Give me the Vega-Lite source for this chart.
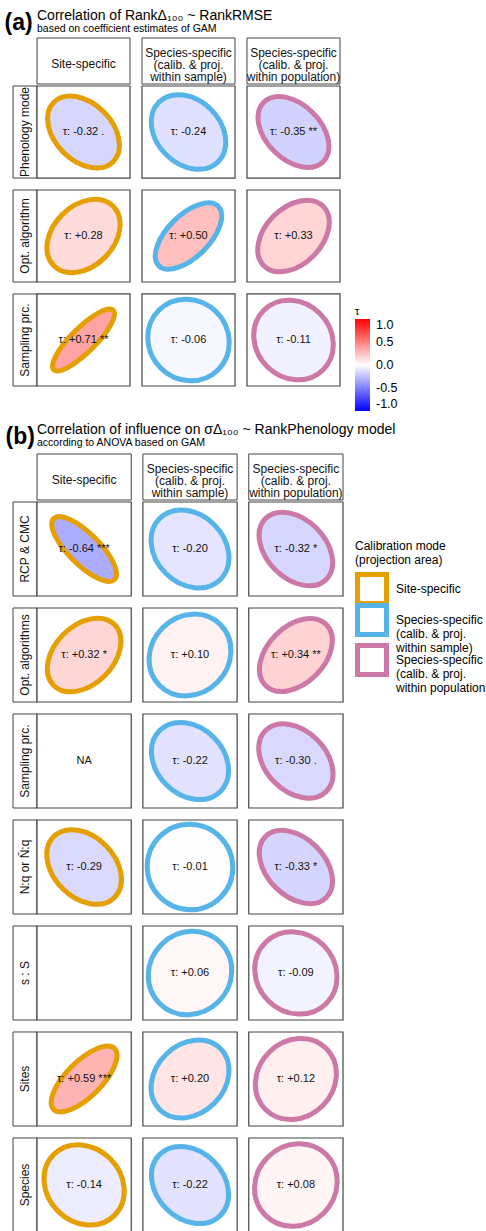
{
  "$schema": "https://vega.github.io/schema/vega-lite/v6.json",
  "padding": {"left": 4, "top": 9, "right": 0, "bottom": 0},
  "background": "white",
  "config": {
    "view": {"stroke": null},
    "font": "Liberation Sans",
    "title": {"fontWeight": "normal", "color": "#000000", "subtitleColor": "#000000"},
    "legend": {"titleColor": "#000000", "labelColor": "#000000"}
  },
  "datasets": {
    "modes": [
      {"mode": "Site-specific", "lines": ["Site-specific"]},
      {"mode": "Species-specific|(calib. & proj.|within sample)", "lines": ["Species-specific", "(calib. & proj.", "within sample)"]},
      {"mode": "Species-specific|(calib. & proj.|within population)", "lines": ["Species-specific", "(calib. & proj.", "within population)"]}
    ],
    "rowsA": [{"row": "Phenology mode"}, {"row": "Opt. algorithm"}, {"row": "Sampling prc."}],
    "rowsB": [{"row": "RCP & CMC"}, {"row": "Opt. algorithms"}, {"row": "Sampling prc."}, {"row": "N:q or N̄:q"}, {"row": "s : S"}, {"row": "Sites"}, {"row": "Species"}],
    "cellsA": [
      {"row": "Phenology mode", "mode": "Site-specific", "tau": -0.32, "label": "τ: -0.32 ."},
      {"row": "Phenology mode", "mode": "Species-specific|(calib. & proj.|within sample)", "tau": -0.24, "label": "τ: -0.24"},
      {"row": "Phenology mode", "mode": "Species-specific|(calib. & proj.|within population)", "tau": -0.35, "label": "τ: -0.35 **"},
      {"row": "Opt. algorithm", "mode": "Site-specific", "tau": 0.28, "label": "τ: +0.28"},
      {"row": "Opt. algorithm", "mode": "Species-specific|(calib. & proj.|within sample)", "tau": 0.5, "label": "τ: +0.50"},
      {"row": "Opt. algorithm", "mode": "Species-specific|(calib. & proj.|within population)", "tau": 0.33, "label": "τ: +0.33"},
      {"row": "Sampling prc.", "mode": "Site-specific", "tau": 0.71, "label": "τ: +0.71 **"},
      {"row": "Sampling prc.", "mode": "Species-specific|(calib. & proj.|within sample)", "tau": -0.06, "label": "τ: -0.06"},
      {"row": "Sampling prc.", "mode": "Species-specific|(calib. & proj.|within population)", "tau": -0.11, "label": "τ: -0.11"}
    ],
    "cellsB": [
      {"row": "RCP & CMC", "mode": "Site-specific", "tau": -0.64, "label": "τ: -0.64 ***"},
      {"row": "RCP & CMC", "mode": "Species-specific|(calib. & proj.|within sample)", "tau": -0.2, "label": "τ: -0.20"},
      {"row": "RCP & CMC", "mode": "Species-specific|(calib. & proj.|within population)", "tau": -0.32, "label": "τ: -0.32 *"},
      {"row": "Opt. algorithms", "mode": "Site-specific", "tau": 0.32, "label": "τ: +0.32 *"},
      {"row": "Opt. algorithms", "mode": "Species-specific|(calib. & proj.|within sample)", "tau": 0.1, "label": "τ: +0.10"},
      {"row": "Opt. algorithms", "mode": "Species-specific|(calib. & proj.|within population)", "tau": 0.34, "label": "τ: +0.34 **"},
      {"row": "Sampling prc.", "mode": "Site-specific", "tau": null, "label": "NA"},
      {"row": "Sampling prc.", "mode": "Species-specific|(calib. & proj.|within sample)", "tau": -0.22, "label": "τ: -0.22"},
      {"row": "Sampling prc.", "mode": "Species-specific|(calib. & proj.|within population)", "tau": -0.3, "label": "τ: -0.30 ."},
      {"row": "N:q or N̄:q", "mode": "Site-specific", "tau": -0.29, "label": "τ: -0.29"},
      {"row": "N:q or N̄:q", "mode": "Species-specific|(calib. & proj.|within sample)", "tau": -0.01, "label": "τ: -0.01"},
      {"row": "N:q or N̄:q", "mode": "Species-specific|(calib. & proj.|within population)", "tau": -0.33, "label": "τ: -0.33 *"},
      {"row": "s : S", "mode": "Site-specific", "tau": null, "label": ""},
      {"row": "s : S", "mode": "Species-specific|(calib. & proj.|within sample)", "tau": 0.06, "label": "τ: +0.06"},
      {"row": "s : S", "mode": "Species-specific|(calib. & proj.|within population)", "tau": -0.09, "label": "τ: -0.09"},
      {"row": "Sites", "mode": "Site-specific", "tau": 0.59, "label": "τ: +0.59 ***"},
      {"row": "Sites", "mode": "Species-specific|(calib. & proj.|within sample)", "tau": 0.2, "label": "τ: +0.20"},
      {"row": "Sites", "mode": "Species-specific|(calib. & proj.|within population)", "tau": 0.12, "label": "τ: +0.12"},
      {"row": "Species", "mode": "Site-specific", "tau": -0.14, "label": "τ: -0.14"},
      {"row": "Species", "mode": "Species-specific|(calib. & proj.|within sample)", "tau": -0.22, "label": "τ: -0.22"},
      {"row": "Species", "mode": "Species-specific|(calib. & proj.|within population)", "tau": 0.08, "label": "τ: +0.08"}
    ]
  },
  "columns": 1,
  "align": "none",
  "spacing": 32,
  "resolve": {"scale": {"shape": "independent"}},
  "concat": [
    {
      "title": {"text": "(a)", "fontSize": 23, "fontWeight": "bold", "anchor": "start", "frame": "bounds", "offset": -26, "dx": -8},
      "columns": 2,
      "align": "each",
      "bounds": "flush",
      "spacing": {"row": 2, "column": 0},
      "concat": [
        {"width": 24, "height": 46, "data": {"values": [{}]}, "mark": {"type": "text", "text": ""}, "encoding": {}},
        {
          "width": 303, "height": 46,
          "title": {"text": "Correlation of RankΔ₁₀₀ ~ RankRMSE", "subtitle": "based on coefficient estimates of GAM", "anchor": "start", "frame": "group", "fontSize": 14, "fontWeight": "normal", "subtitleFontSize": 10.5, "subtitlePadding": 1, "offset": 3},
          "data": {"name": "modes"},
          "encoding": {"x": {"field": "mode", "type": "nominal", "sort": null, "scale": {"domain": ["Site-specific", "Species-specific|(calib. & proj.|within sample)", "Species-specific|(calib. & proj.|within population)"], "paddingInner": 0.114, "paddingOuter": 0}, "axis": null}},
          "layer": [
            {"mark": {"type": "rect", "fill": "white", "stroke": "#444444", "strokeWidth": 1}},
            {"transform": [{"filter": "length(datum.lines) == 1"}], "mark": {"type": "text", "fontSize": 12, "lineHeight": 12, "dy": 3, "color": "#111111"}, "encoding": {"text": {"field": "lines", "type": "nominal"}}},
            {"transform": [{"filter": "length(datum.lines) > 1"}], "mark": {"type": "text", "fontSize": 12, "lineHeight": 12, "dy": -8, "color": "#111111"}, "encoding": {"text": {"field": "lines", "type": "nominal"}}}
          ]
        },
        {
          "width": 24, "height": 300,
          "data": {"name": "rowsA"},
          "encoding": {"y": {"field": "row", "type": "nominal", "sort": null, "scale": {"domain": ["Phenology mode", "Opt. algorithm", "Sampling prc."], "paddingInner": 0.115, "paddingOuter": 0}, "axis": null}},
          "layer": [
            {"mark": {"type": "rect", "fill": "white", "stroke": "#444444", "strokeWidth": 1}},
            {"mark": {"type": "text", "fontSize": 12, "angle": 270, "color": "#111111"}, "encoding": {"text": {"field": "row"}}}
          ]
        },
        {
          "width": 303, "height": 300,
          "data": {"name": "cellsA"},
          "encoding": {
            "x": {"field": "mode", "type": "nominal", "sort": null, "scale": {"domain": ["Site-specific", "Species-specific|(calib. & proj.|within sample)", "Species-specific|(calib. & proj.|within population)"], "paddingInner": 0.114, "paddingOuter": 0}, "axis": null},
            "y": {"field": "row", "type": "nominal", "sort": null, "scale": {"domain": ["Phenology mode", "Opt. algorithm", "Sampling prc."], "paddingInner": 0.115, "paddingOuter": 0}, "axis": null}
          },
          "layer": [
            {"mark": {"type": "rect", "fill": "white", "stroke": "#444444", "strokeWidth": 1.2}},
            {
              "transform": [{"filter": "isValid(datum.tau)"}],
              "mark": {"type": "point", "filled": true, "size": 7056, "strokeWidth": 5, "opacity": 1, "fillOpacity": 0.5, "strokeOpacity": 1},
              "encoding": {
                "fill": {"field": "tau", "type": "quantitative", "scale": {"domain": [-1, 0, 1], "range": ["#0000FF", "#FFFFFF", "#FF0000"], "interpolate": "rgb"},
                  "legend": {"title": "τ", "orient": "none", "legendX": 342, "legendY": 268, "direction": "vertical", "titleFontSize": 11, "titleFontWeight": "normal", "titlePadding": 2, "gradientLength": 92, "gradientThickness": 15, "gradientStrokeWidth": 0, "labelFontSize": 12.5, "labelOffset": 6, "values": [1, 0.5, 0, -0.5, -1], "labelExpr": "replace(format(datum.value, '.1f'), '−', '-')"}},
                "stroke": {"field": "mode", "type": "nominal", "scale": {"domain": ["Site-specific", "Species-specific|(calib. & proj.|within sample)", "Species-specific|(calib. & proj.|within population)"], "range": ["#E69F00", "#56B4E9", "#CC79A7"]},
                  "legend": {"title": ["Calibration mode", "(projection area)"], "orient": "none", "legendX": 342, "legendY": 503, "direction": "vertical", "titleFontSize": 12, "titleFontWeight": "normal", "titleLineHeight": 14, "titlePadding": 5, "labelFontSize": 12, "labelOffset": 7, "rowPadding": -19, "gridAlign": "none", "symbolType": "square", "symbolSize": 841, "symbolStrokeWidth": 5, "symbolFillColor": "white", "symbolOpacity": 1, "labelExpr": "split(datum.label, '|')",
                    "encode": {"labels": {"lineHeight": {"value": 13.5}, "dy": {"value": {"expr": "indexof(datum.label, '|') >= 0 ? -13.5 : 0"}}}}}},
                "shape": {"field": "tau", "type": "nominal", "legend": null, "scale": {
                  "domain": [-0.32, -0.24, -0.35, 0.28, 0.5, 0.33, 0.71, -0.06, -0.11],
                  "range": [
                    "M0.707,0.707 C0.973,0.442 0.871,-0.090 0.481,-0.481 C0.090,-0.871 -0.442,-0.973 -0.707,-0.707 C-0.973,-0.442 -0.871,0.090 -0.481,0.481 C-0.090,0.871 0.442,0.973 0.707,0.707 Z",
                    "M0.707,0.707 C1.004,0.410 0.928,-0.147 0.537,-0.537 C0.147,-0.928 -0.410,-1.004 -0.707,-0.707 C-1.004,-0.410 -0.928,0.147 -0.537,0.537 C-0.147,0.928 0.410,1.004 0.707,0.707 Z",
                    "M0.707,0.707 C0.961,0.453 0.850,-0.069 0.460,-0.460 C0.069,-0.850 -0.453,-0.961 -0.707,-0.707 C-0.961,-0.453 -0.850,0.069 -0.460,0.460 C-0.069,0.850 0.453,0.961 0.707,0.707 Z",
                    "M0.707,-0.707 C0.988,-0.426 0.900,0.119 0.509,0.509 C0.119,0.900 -0.426,0.988 -0.707,0.707 C-0.988,0.426 -0.900,-0.119 -0.509,-0.509 C-0.119,-0.900 0.426,-0.988 0.707,-0.707 Z",
                    "M0.707,-0.707 C0.902,-0.512 0.744,-0.037 0.354,0.354 C-0.037,0.744 -0.512,0.902 -0.707,0.707 C-0.902,0.512 -0.744,0.037 -0.354,-0.354 C0.037,-0.744 0.512,-0.902 0.707,-0.707 Z",
                    "M0.707,-0.707 C0.969,-0.446 0.864,0.083 0.474,0.474 C0.083,0.864 -0.446,0.969 -0.707,0.707 C-0.969,0.446 -0.864,-0.083 -0.474,-0.474 C-0.083,-0.864 0.446,-0.969 0.707,-0.707 Z",
                    "M0.707,-0.707 C0.820,-0.594 0.596,-0.185 0.205,0.205 C-0.185,0.596 -0.594,0.820 -0.707,0.707 C-0.820,0.594 -0.596,0.185 -0.205,-0.205 C0.185,-0.596 0.594,-0.820 0.707,-0.707 Z",
                    "M0.707,0.707 C1.074,0.340 1.055,-0.274 0.665,-0.665 C0.274,-1.055 -0.340,-1.074 -0.707,-0.707 C-1.074,-0.340 -1.055,0.274 -0.665,0.665 C-0.274,1.055 0.340,1.074 0.707,0.707 Z",
                    "M0.707,0.707 C1.055,0.360 1.020,-0.239 0.629,-0.629 C0.239,-1.020 -0.360,-1.055 -0.707,-0.707 C-1.055,-0.360 -1.020,0.239 -0.629,0.629 C-0.239,1.020 0.360,1.055 0.707,0.707 Z"
                  ]}}
              }
            },
            {"mark": {"type": "text", "fontSize": 11, "color": "#111111"}, "encoding": {"text": {"field": "label"}}}
          ]
        }
      ]
    },
    {
      "title": {"text": "(b)", "fontSize": 23, "fontWeight": "bold", "anchor": "start", "frame": "bounds", "offset": -26, "dx": -7},
      "columns": 2,
      "align": "each",
      "bounds": "flush",
      "spacing": {"row": 2, "column": 0},
      "concat": [
        {"width": 24, "height": 46, "data": {"values": [{}]}, "mark": {"type": "text", "text": ""}, "encoding": {}},
        {
          "width": 306, "height": 46,
          "title": {"text": "Correlation of influence on σΔ₁₀₀ ~ RankPhenology model", "subtitle": "according to ANOVA based on GAM", "anchor": "start", "frame": "group", "fontSize": 14, "fontWeight": "normal", "subtitleFontSize": 10.5, "subtitlePadding": 1, "offset": 5},
          "data": {"name": "modes"},
          "encoding": {"x": {"field": "mode", "type": "nominal", "sort": null, "scale": {"domain": ["Site-specific", "Species-specific|(calib. & proj.|within sample)", "Species-specific|(calib. & proj.|within population)"], "paddingInner": 0.11, "paddingOuter": 0}, "axis": null}},
          "layer": [
            {"mark": {"type": "rect", "fill": "white", "stroke": "#444444", "strokeWidth": 1}},
            {"transform": [{"filter": "length(datum.lines) == 1"}], "mark": {"type": "text", "fontSize": 12, "lineHeight": 12, "dy": 3, "color": "#111111"}, "encoding": {"text": {"field": "lines", "type": "nominal"}}},
            {"transform": [{"filter": "length(datum.lines) > 1"}], "mark": {"type": "text", "fontSize": 12, "lineHeight": 12, "dy": -8, "color": "#111111"}, "encoding": {"text": {"field": "lines", "type": "nominal"}}}
          ]
        },
        {
          "width": 24, "height": 730,
          "data": {"name": "rowsB"},
          "encoding": {"y": {"field": "row", "type": "nominal", "sort": null, "scale": {"domain": ["RCP & CMC", "Opt. algorithms", "Sampling prc.", "N:q or N̄:q", "s : S", "Sites", "Species"], "paddingInner": 0.113, "paddingOuter": 0}, "axis": null}},
          "layer": [
            {"mark": {"type": "rect", "fill": "white", "stroke": "#444444", "strokeWidth": 1}},
            {"mark": {"type": "text", "fontSize": 12, "angle": 270, "color": "#111111"}, "encoding": {"text": {"field": "row"}}}
          ]
        },
        {
          "width": 306, "height": 730,
          "data": {"name": "cellsB"},
          "encoding": {
            "x": {"field": "mode", "type": "nominal", "sort": null, "scale": {"domain": ["Site-specific", "Species-specific|(calib. & proj.|within sample)", "Species-specific|(calib. & proj.|within population)"], "paddingInner": 0.11, "paddingOuter": 0}, "axis": null},
            "y": {"field": "row", "type": "nominal", "sort": null, "scale": {"domain": ["RCP & CMC", "Opt. algorithms", "Sampling prc.", "N:q or N̄:q", "s : S", "Sites", "Species"], "paddingInner": 0.113, "paddingOuter": 0}, "axis": null}
          },
          "layer": [
            {"mark": {"type": "rect", "fill": "white", "stroke": "#444444", "strokeWidth": 1.2}},
            {
              "transform": [{"filter": "isValid(datum.tau)"}],
              "mark": {"type": "point", "filled": true, "size": 7396, "strokeWidth": 5, "opacity": 1, "fillOpacity": 0.5, "strokeOpacity": 1},
              "encoding": {
                "fill": {"field": "tau", "type": "quantitative", "scale": {"domain": [-1, 0, 1], "range": ["#0000FF", "#FFFFFF", "#FF0000"], "interpolate": "rgb"},
                  "legend": {"title": "τ", "orient": "none", "legendX": 342, "legendY": 268, "direction": "vertical", "titleFontSize": 11, "titleFontWeight": "normal", "titlePadding": 2, "gradientLength": 92, "gradientThickness": 15, "gradientStrokeWidth": 0, "labelFontSize": 12.5, "labelOffset": 6, "values": [1, 0.5, 0, -0.5, -1], "labelExpr": "replace(format(datum.value, '.1f'), '−', '-')"}},
                "stroke": {"field": "mode", "type": "nominal", "scale": {"domain": ["Site-specific", "Species-specific|(calib. & proj.|within sample)", "Species-specific|(calib. & proj.|within population)"], "range": ["#E69F00", "#56B4E9", "#CC79A7"]},
                  "legend": {"title": ["Calibration mode", "(projection area)"], "orient": "none", "legendX": 342, "legendY": 503, "direction": "vertical", "titleFontSize": 12, "titleFontWeight": "normal", "titleLineHeight": 14, "titlePadding": 5, "labelFontSize": 12, "labelOffset": 7, "rowPadding": -19, "gridAlign": "none", "symbolType": "square", "symbolSize": 841, "symbolStrokeWidth": 5, "symbolFillColor": "white", "symbolOpacity": 1, "labelExpr": "split(datum.label, '|')",
                    "encode": {"labels": {"lineHeight": {"value": 13.5}, "dy": {"value": {"expr": "indexof(datum.label, '|') >= 0 ? -13.5 : 0"}}}}}},
                "shape": {"field": "tau", "type": "nominal", "legend": null, "scale": {
                  "domain": [-0.64, -0.2, -0.32, 0.32, 0.1, 0.34, -0.22, -0.3, -0.29, -0.01, -0.33, 0.06, -0.09, 0.59, 0.2, 0.12, -0.14, 0.08],
                  "range": [
                    "M0.707,0.707 C0.848,0.567 0.645,0.136 0.255,-0.255 C-0.136,-0.645 -0.567,-0.848 -0.707,-0.707 C-0.848,-0.567 -0.645,-0.136 -0.255,0.255 C0.136,0.645 0.567,0.848 0.707,0.707 Z",
                    "M0.707,0.707 C1.020,0.395 0.956,-0.175 0.566,-0.566 C0.175,-0.956 -0.395,-1.020 -0.707,-0.707 C-1.020,-0.395 -0.956,0.175 -0.566,0.566 C-0.175,0.956 0.395,1.020 0.707,0.707 Z",
                    "M0.707,0.707 C0.973,0.442 0.871,-0.090 0.481,-0.481 C0.090,-0.871 -0.442,-0.973 -0.707,-0.707 C-0.973,-0.442 -0.871,0.090 -0.481,0.481 C-0.090,0.871 0.442,0.973 0.707,0.707 Z",
                    "M0.707,-0.707 C0.973,-0.442 0.871,0.090 0.481,0.481 C0.090,0.871 -0.442,0.973 -0.707,0.707 C-0.973,0.442 -0.871,-0.090 -0.481,-0.481 C-0.090,-0.871 0.442,-0.973 0.707,-0.707 Z",
                    "M0.707,-0.707 C1.059,-0.356 1.027,0.246 0.636,0.636 C0.246,1.027 -0.356,1.059 -0.707,0.707 C-1.059,0.356 -1.027,-0.246 -0.636,-0.636 C-0.246,-1.027 0.356,-1.059 0.707,-0.707 Z",
                    "M0.707,-0.707 C0.965,-0.449 0.857,0.076 0.467,0.467 C0.076,0.857 -0.449,0.965 -0.707,0.707 C-0.965,0.449 -0.857,-0.076 -0.467,-0.467 C-0.076,-0.857 0.449,-0.965 0.707,-0.707 Z",
                    "M0.707,0.707 C1.012,0.403 0.942,-0.161 0.552,-0.552 C0.161,-0.942 -0.403,-1.012 -0.707,-0.707 C-1.012,-0.403 -0.942,0.161 -0.552,0.552 C-0.161,0.942 0.403,1.012 0.707,0.707 Z",
                    "M0.707,0.707 C0.981,0.434 0.886,-0.105 0.495,-0.495 C0.105,-0.886 -0.434,-0.981 -0.707,-0.707 C-0.981,-0.434 -0.886,0.105 -0.495,0.495 C-0.105,0.886 0.434,0.981 0.707,0.707 Z",
                    "M0.707,0.707 C0.984,0.430 0.893,-0.112 0.502,-0.502 C0.112,-0.893 -0.430,-0.984 -0.707,-0.707 C-0.984,-0.430 -0.893,0.112 -0.502,0.502 C-0.112,0.893 0.430,0.984 0.707,0.707 Z",
                    "M0.707,0.707 C1.094,0.320 1.090,-0.309 0.700,-0.700 C0.309,-1.090 -0.320,-1.094 -0.707,-0.707 C-1.094,-0.320 -1.090,0.309 -0.700,0.700 C-0.309,1.090 0.320,1.094 0.707,0.707 Z",
                    "M0.707,0.707 C0.969,0.446 0.864,-0.083 0.474,-0.474 C0.083,-0.864 -0.446,-0.969 -0.707,-0.707 C-0.969,-0.446 -0.864,0.083 -0.474,0.474 C-0.083,0.864 0.446,0.969 0.707,0.707 Z",
                    "M0.707,-0.707 C1.074,-0.340 1.055,0.274 0.665,0.665 C0.274,1.055 -0.340,1.074 -0.707,0.707 C-1.074,0.340 -1.055,-0.274 -0.665,-0.665 C-0.274,-1.055 0.340,-1.074 0.707,-0.707 Z",
                    "M0.707,0.707 C1.063,0.352 1.034,-0.253 0.643,-0.643 C0.253,-1.034 -0.352,-1.063 -0.707,-0.707 C-1.063,-0.352 -1.034,0.253 -0.643,0.643 C-0.253,1.034 0.352,1.063 0.707,0.707 Z",
                    "M0.707,-0.707 C0.867,-0.547 0.680,-0.101 0.290,0.290 C-0.101,0.680 -0.547,0.867 -0.707,0.707 C-0.867,0.547 -0.680,0.101 -0.290,-0.290 C0.101,-0.680 0.547,-0.867 0.707,-0.707 Z",
                    "M0.707,-0.707 C1.020,-0.395 0.956,0.175 0.566,0.566 C0.175,0.956 -0.395,1.020 -0.707,0.707 C-1.020,0.395 -0.956,-0.175 -0.566,-0.566 C-0.175,-0.956 0.395,-1.020 0.707,-0.707 Z",
                    "M0.707,-0.707 C1.051,-0.364 1.013,0.232 0.622,0.622 C0.232,1.013 -0.364,1.051 -0.707,0.707 C-1.051,0.364 -1.013,-0.232 -0.622,-0.622 C-0.232,-1.013 0.364,-1.051 0.707,-0.707 Z",
                    "M0.707,0.707 C1.043,0.371 0.999,-0.218 0.608,-0.608 C0.218,-0.999 -0.371,-1.043 -0.707,-0.707 C-1.043,-0.371 -0.999,0.218 -0.608,0.608 C-0.218,0.999 0.371,1.043 0.707,0.707 Z",
                    "M0.707,-0.707 C1.066,-0.348 1.041,0.260 0.650,0.650 C0.260,1.041 -0.348,1.066 -0.707,0.707 C-1.066,0.348 -1.041,-0.260 -0.650,-0.650 C-0.260,-1.041 0.348,-1.066 0.707,-0.707 Z"
                  ]}}
              }
            },
            {"mark": {"type": "text", "fontSize": 11, "color": "#111111"}, "encoding": {"text": {"field": "label"}}}
          ]
        }
      ]
    }
  ]
}
